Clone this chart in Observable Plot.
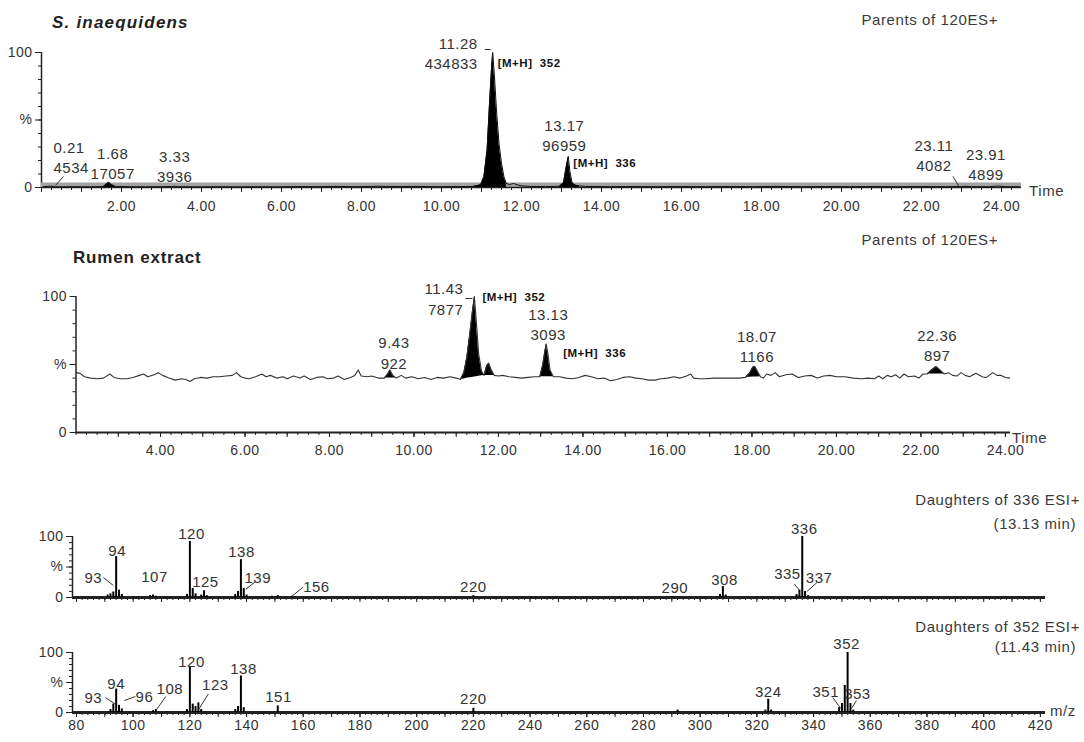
<!DOCTYPE html>
<html><head><meta charset="utf-8">
<script src="https://cdn.jsdelivr.net/npm/d3@7"></script>
<script src="https://cdn.jsdelivr.net/npm/@observablehq/plot@0.6"></script>
<style>
body{margin:0;background:#fff;}
#wrap{position:relative;width:1084px;height:742px;overflow:hidden;font-family:"Liberation Sans",Arial,sans-serif;color:#333;background:#fff;}
#wrap svg{position:absolute;left:0;}
.lbl{position:absolute;white-space:pre;line-height:1;letter-spacing:0.6px;color:#3a3a3a;}
</style></head><body><div id="wrap"></div>
<script>
// ---------------- DATA ----------------
// Panel 1: S. inaequidens, Parents of 120ES+ (time min, % intensity)
const inaequidensTrace = [
[0.05,0.6],[0.21,1.0],[0.35,0.5],[0.8,0.6],[1.2,0.5],[1.55,0.7],[1.62,2.5],[1.68,3.9],[1.74,2.2],[1.85,0.8],
[2.2,0.6],[2.6,0.5],[3.0,0.6],[3.25,0.7],[3.33,0.9],[3.42,0.6],[3.9,0.5],[4.4,0.6],[4.9,0.5],[5.4,0.6],
[5.9,0.5],[6.4,0.7],[6.9,0.6],[7.4,0.8],[7.9,0.6],[8.4,0.9],[8.9,0.7],[9.4,0.8],[9.9,0.6],[10.4,0.7],
[10.8,0.8],[10.98,2],[11.06,8],[11.14,28],[11.2,62],[11.25,88],[11.28,100],[11.32,84],[11.38,55],[11.44,32],
[11.5,18],[11.56,8],[11.62,3],[11.7,2.2],[11.8,3.0],[11.9,2.0],[12.0,1.2],[12.2,0.8],[12.6,0.7],[12.95,0.9],
[13.05,3.5],[13.11,14],[13.17,23],[13.21,12],[13.26,4],[13.33,1.8],[13.45,1.2],[13.6,0.8],[14.2,0.6],[14.8,0.7],
[15.4,0.6],[16.0,0.7],[16.6,0.6],[17.2,0.7],[17.8,0.6],[18.4,0.8],[19.0,0.6],[19.6,0.7],[20.2,0.6],[20.8,0.7],
[21.4,0.6],[22.0,0.7],[22.6,0.6],[23.0,0.7],[23.11,0.9],[23.25,0.6],[23.7,0.6],[23.91,1.1],[24.1,0.6],[24.45,0.6]];
const inaequidensPeakWindows = [[1.55,1.85],[10.8,11.62],[12.95,13.45]];
const inaequidensLabelTimes = ["0.21","1.68","3.33","11.28","13.17","23.11","23.91"];
const inaequidensLabelAreas = ["4534","17057","3936","434833","96959","4082","4899"];
const inaequidensIonTimes = ["11.28","13.17"];
const inaequidensIonTexts = ["[M+H]\u00a0\u00a0352","[M+H]\u00a0\u00a0336"];

// Panel 2: Rumen extract, Parents of 120ES+
const rumenTrace = [
[2.0,44],[2.1,43.5],[2.2,41],[2.35,40],[2.5,39.5],[2.65,40],[2.8,43],[2.9,40.5],[3.05,39.5],[3.2,39.5],
[3.35,40.5],[3.5,42],[3.6,43],[3.7,41],[3.85,42.5],[3.95,44],[4.05,42],[4.2,40],[4.35,38.5],[4.5,39.5],
[4.6,39],[4.7,37.5],[4.8,39.5],[4.95,40.5],[5.1,40],[5.25,41],[5.4,41],[5.55,41.5],[5.7,42],[5.8,44],
[5.9,41],[6.0,40],[6.1,39.5],[6.25,41],[6.4,43],[6.5,41],[6.6,42],[6.75,40],[6.9,41],[7.0,39.5],
[7.15,41.5],[7.3,40],[7.4,41.5],[7.55,39],[7.7,40.5],[7.85,41],[7.95,39.5],[8.1,40],[8.2,41.5],[8.35,39],
[8.5,40.5],[8.6,42],[8.68,46],[8.75,41.5],[8.9,41],[9.0,41.5],[9.15,40],[9.3,40],[9.38,43],[9.43,46],
[9.5,42],[9.58,40],[9.7,42],[9.8,40],[9.95,41],[10.1,39.5],[10.25,40.5],[10.4,39],[10.55,40.5],[10.7,40],
[10.85,41],[11.0,40],[11.1,39],[11.18,44],[11.25,55],[11.32,72],[11.38,88],[11.43,100],[11.48,80],[11.53,58],
[11.6,45],[11.66,42],[11.72,49],[11.77,51],[11.83,46],[11.9,42],[12.0,41.5],[12.1,42],[12.25,41],[12.4,40.5],
[12.55,40],[12.7,40.5],[12.85,41],[12.98,41],[13.05,50],[13.1,60],[13.13,65],[13.17,58],[13.22,46],[13.3,41],
[13.45,41],[13.6,40],[13.75,39.5],[13.9,40.5],[14.05,42],[14.2,41],[14.35,39.5],[14.5,40],[14.65,38],[14.8,39],
[14.95,40.5],[15.1,41],[15.25,40],[15.4,39.5],[15.55,38.5],[15.7,38.5],[15.85,39.5],[16.0,40],[16.15,41],[16.3,40],
[16.45,41.5],[16.55,43],[16.62,40],[16.75,39.5],[16.9,39.5],[17.1,40],[17.3,40],[17.5,40],[17.7,40],[17.85,40.5],
[17.95,44],[18.02,48],[18.07,48.5],[18.13,45],[18.2,41],[18.27,40],[18.35,43],[18.45,42],[18.55,44],[18.65,41],
[18.8,42.5],[18.95,43],[19.1,40.5],[19.25,41.5],[19.4,42],[19.55,40],[19.7,41.5],[19.85,42],[20.0,41],[20.2,41],
[20.4,40],[20.6,39.5],[20.75,40],[20.9,39.5],[21.0,41.5],[21.1,39.5],[21.2,42],[21.3,41],[21.4,42.5],[21.5,40],
[21.6,43],[21.7,41],[21.85,41.5],[21.95,40],[22.05,43],[22.15,43],[22.25,46],[22.36,48.5],[22.45,46],[22.55,43],
[22.65,44],[22.75,42],[22.85,41.5],[22.95,44],[23.05,42],[23.15,41],[23.3,43.5],[23.45,41],[23.55,40.5],[23.7,44],
[23.8,42],[23.9,42],[24.0,40.5],[24.1,40]];
const rumenPeakWindows = [[9.3,9.58],[11.1,11.66],[11.66,11.9],[12.98,13.3],[17.85,18.2],[22.15,22.55]];
const rumenLabelTimes = ["9.43","11.43","13.13","18.07","22.36"];
const rumenLabelAreas = ["922","7877","3093","1166","897"];
const rumenIonTimes = ["11.43","13.13"];
const rumenIonTexts = ["[M+H]\u00a0\u00a0352","[M+H]\u00a0\u00a0336"];

// Panel 3: Daughters of 336 ESI+ (m/z, %)
const daughters336 = [[91,4],[92,6],[93,9],[94,67],[95,12],[96,5],[106,3],[107,4],[108,2],[119,5],[120,92],[121,15],
[122,6],[124,4],[125,11],[126,3],[136,5],[137,10],[138,62],[139,15],[140,4],[149,2],[151,3],[156,2],[220,3],
[290,1.5],[307,5],[308,18],[309,4],[334,5],[335,12],[336,100],[337,10],[338,3]];
const daughters336Labels = [93,94,107,120,125,138,139,156,220,290,308,335,336,337];

// Panel 4: Daughters of 352 ESI+
const daughters352 = [[92,5],[93,14],[94,39],[95,12],[96,6],[107,3],[108,5],[119,5],[120,75],[121,14],[122,10],
[123,16],[124,5],[136,5],[137,10],[138,61],[139,8],[151,11],[220,7],[292,4],[323,4],[324,22],[325,4],[349,8],
[350,15],[351,45],[352,100],[353,15],[354,4]];
const daughters352Labels = [93,94,96,108,120,123,138,151,220,324,351,352,353];

// Axis ticks
const yTickValues = [0,50,100];
const yTickLabels = ["0","%","100"];
const timeTicks1 = [2,4,6,8,10,12,14,16,18,20,22,24];
const timeTicks2 = [4,6,8,10,12,14,16,18,20,22,24];
const mzTicks = [80,100,120,140,160,180,200,220,240,260,280,300,320,340,360,380,400,420];

// Titles
const titles = {
  s1: "S. inaequidens", s1right: "Parents of 120ES+",
  s2: "Rumen extract", s2right: "Parents of 120ES+",
  s3: "Daughters of 336 ESI+", s3b: "(13.13 min)",
  s4: "Daughters of 352 ESI+", s4b: "(11.43 min)"
};

// ---------------- LAYOUT (pixel offsets, not data) ----------------
const FONT = '"Liberation Sans", Arial, sans-serif';
const wrap = document.getElementById("wrap");
const INK = "#333";

function svgStyle(top){
  return `position:absolute;left:0;top:${top}px;font-family:${FONT};font-size:14px;letter-spacing:0.5px;color:#222;background:transparent;overflow:visible;`;
}
function yAxes(){
  return [
    Plot.axisY({ticks: d3.range(0,101,10), tickSize:3, tickFormat:()=>"", label:null}),
    Plot.axisY({ticks: yTickValues, tickSize:6, tickPadding:3, tickFormat:d=>yTickLabels[yTickValues.indexOf(d)], label:null, fill:INK})
  ];
}
const tval = s => +s;
function traceAt(trace, t){ let best = trace[0]; for (const p of trace) if (Math.abs(p[0]-t) < Math.abs(best[0]-t)) best = p; return best[1]; }
function fills(trace, windows, linear){
  const out = [];
  windows.forEach(([a,b],id)=>{
    const pts = trace.filter(p=>p[0]>=a && p[0]<=b);
    const ya = pts[0][1], yb = pts[pts.length-1][1];
    for (const [t,v] of pts) out.push({id, t, v, base: linear ? ya+(yb-ya)*(t-a)/(b-a) : 0});
  });
  return out;
}
function labelMarks(items, layout, kx, ky, opts){
  const marks = [];
  for (const it of items){
    const L = layout[it.key] || {};
    marks.push(Plot.text([it], {x:"x", y:"y", text:"text", dx:L.dx||0, dy:L.dy||0, textAnchor:L.anchor||"middle",
      lineAnchor:"middle", lineHeight:1.35, fontSize:opts.fontSize||15, fontWeight:opts.fontWeight||"normal", fill:opts.fill||INK}));
    if (L.leader){
      const [a,b,c,e] = L.leader;
      marks.push(Plot.link([it], {x1:d=>d.x+a/kx, y1:d=>d.y-b/ky, x2:d=>d.x+c/kx, y2:d=>d.y-e/ky, stroke:"#333", strokeWidth:1}));
    }
  }
  return marks;
}
function addLabel(text, o){
  const d = document.createElement("div");
  d.className = "lbl"; d.textContent = text;
  d.style.fontSize = o.size+"px";
  if (o.weight) d.style.fontWeight = o.weight;
  if (o.italic) d.style.fontStyle = "italic";
  if (o.color) d.style.color = o.color;
  if (o.ls !== undefined) d.style.letterSpacing = o.ls+"px";
  d.style.top = (o.cy - o.size*0.55)+"px";
  if (o.left !== undefined) d.style.left = o.left+"px";
  if (o.right !== undefined) { d.style.right = (1084-o.right)+"px"; d.style.textAlign="right"; }
  wrap.appendChild(d);
}

// ---------------- PANEL 1 ----------------
{
  const dom = [0,24.5], kx = 980/24.5, ky = 135/100;
  const layout = {
    "0.21":{dx:3.6, dy:-30, anchor:"start", leader:[5.6,-0.7,13.6,-9.7]},
    "1.68":{dx:4, dy:-19.7}, "3.33":{dx:0, dy:-21},
    "11.28":{dx:-15, dy:0, anchor:"end", leader:[-8,-3,-2,-3]},
    "13.17":{dx:-4, dy:-22},
    "23.11":{dx:-32, dy:-32, leader:[-13,-10,-7,0]},
    "23.91":{dx:-12, dy:-22.5}
  };
  const ionLayout = {"11.28":{dx:5, dy:10, anchor:"start"}, "13.17":{dx:5, dy:6, anchor:"start"}};
  const items = inaequidensLabelTimes.map((s,i)=>({key:s, x:tval(s), y:traceAt(inaequidensTrace,tval(s)), text:s+"\n"+inaequidensLabelAreas[i]}));
  const ions = inaequidensIonTimes.map((s,i)=>({key:s, x:tval(s), y:traceAt(inaequidensTrace,tval(s)), text:inaequidensIonTexts[i]}));
  const svg = Plot.plot({
    width:1084, height:225, marginTop:52, marginBottom:38, marginLeft:41, marginRight:63,
    x:{domain:dom}, y:{domain:[0,100]}, style: svgStyle(0),
    marks:[
      ...yAxes(),
      Plot.axisX({ticks:d3.range(0,24.5,0.25), tickSize:3, tickFormat:()=>"", label:null}),
      Plot.axisX({ticks:d3.range(0,24.5,1), tickSize:5, tickFormat:()=>"", label:null}),
      Plot.axisX({ticks:timeTicks1, tickSize:5, tickPadding:9, tickFormat:d3.format(".2f"), label:null, fill:INK}),
      Plot.ruleX([dom[0]], {y1:0, y2:100, strokeWidth:1.5}),
      Plot.ruleY([0], {stroke:"#a3a3a3", strokeWidth:5, dy:-2.5}),
      Plot.ruleY([0], {strokeWidth:1.5}),
      Plot.areaY(fills(inaequidensTrace, inaequidensPeakWindows, false), {x:"t", y1:"base", y2:"v", z:"id", fill:"#000", curve:"linear"}),
      Plot.line(inaequidensTrace, {x:d=>d[0], y:d=>d[1], stroke:"#111", strokeWidth:1}),
      ...labelMarks(items, layout, kx, ky, {}),
      ...labelMarks(ions, ionLayout, kx, ky, {fontSize:11.5, fontWeight:"bold", fill:"#111"})
    ]
  });
  wrap.appendChild(svg);
  addLabel(titles.s1, {left:52, cy:23, size:17, weight:"bold", italic:true, color:"#222", ls:1.2});
  addLabel(titles.s1right, {right:998, cy:20, size:15});
  addLabel("Time", {left:1029, cy:191, size:15});
}

// ---------------- PANEL 2 ----------------
{
  const dom = [2,24.12], kx = 934.5/22.12, ky = 136/100;
  const layout = {
    "9.43":{dx:4, dy:-18},
    "11.43":{dx:-11, dy:1.5, anchor:"end", leader:[-9,2,-2,2]},
    "13.13":{dx:2, dy:-20.6},
    "18.07":{dx:2, dy:-21},
    "22.36":{dx:1, dy:-22}
  };
  const ionLayout = {"11.43":{dx:8, dy:0, anchor:"start"}, "13.13":{dx:17, dy:8, anchor:"start"}};
  const items = rumenLabelTimes.map((s,i)=>({key:s, x:tval(s), y:traceAt(rumenTrace,tval(s)), text:s+"\n"+rumenLabelAreas[i]}));
  const ions = rumenIonTimes.map((s,i)=>({key:s, x:tval(s), y:traceAt(rumenTrace,tval(s)), text:rumenIonTexts[i]}));
  const svg = Plot.plot({
    width:1084, height:245, marginTop:71, marginBottom:38, marginLeft:75.5, marginRight:74,
    x:{domain:dom}, y:{domain:[0,100]}, style: svgStyle(225),
    marks:[
      ...yAxes(),
      Plot.axisX({ticks:d3.range(2,24.1,0.25), tickSize:3, tickFormat:()=>"", label:null}),
      Plot.axisX({ticks:d3.range(3,24.1,1), tickSize:5, tickFormat:()=>"", label:null}),
      Plot.axisX({ticks:timeTicks2, tickSize:5, tickPadding:8, tickFormat:d3.format(".2f"), label:null, fill:INK}),
      Plot.ruleX([dom[0]], {y1:0, y2:100, strokeWidth:1.5}),
      Plot.ruleY([0], {strokeWidth:2}),
      Plot.areaY(fills(rumenTrace, rumenPeakWindows, true), {x:"t", y1:"base", y2:"v", z:"id", fill:"#000", curve:"linear"}),
      Plot.line(rumenTrace, {x:d=>d[0], y:d=>d[1], stroke:"#333", strokeWidth:1.1}),
      ...labelMarks(items, layout, kx, ky, {}),
      ...labelMarks(ions, ionLayout, kx, ky, {fontSize:11.5, fontWeight:"bold", fill:"#111"})
    ]
  });
  wrap.appendChild(svg);
  addLabel(titles.s2right, {right:998, cy:240, size:15});
  addLabel(titles.s2, {left:73, cy:258, size:17, weight:"bold", color:"#222", ls:0.8});
  addLabel("Time", {left:1012, cy:438, size:15});
}

// ---------------- PANELS 3 & 4 ----------------
function spectrumPanel(spec, labels, layout, top, height, mTop, mBottom, showLabels){
  const dom = [78.6,421.8], kx = 973/343.2, ky = (height-mTop-mBottom)/100;
  const items = labels.map(m=>({key:String(m), x:m, y:(spec.find(p=>p[0]===m)||[m,0])[1], text:String(m)}));
  return Plot.plot({
    width:1084, height, marginTop:mTop, marginBottom:mBottom, marginLeft:72, marginRight:39,
    x:{domain:dom}, y:{domain:[0,100]}, style: svgStyle(top),
    marks:[
      ...yAxes(),
      Plot.axisX({ticks:d3.range(80,421,2), tickSize:3, tickFormat:()=>"", label:null}),
      Plot.axisX({ticks:d3.range(80,421,10), tickSize:5, tickFormat:()=>"", label:null}),
      showLabels ? Plot.axisX({ticks:mzTicks, tickSize:5, tickPadding:3, tickFormat:d=>String(d), label:null, fill:INK}) : null,
      Plot.ruleX([dom[0]], {y1:0, y2:100, strokeWidth:1.5}),
      Plot.ruleY([0], {strokeWidth:3}),
      Plot.ruleX(spec, {x:d=>d[0], y1:0, y2:d=>d[1], stroke:"#000", strokeWidth:2}),
      ...labelMarks(items, layout, kx, ky, {})
    ]
  });
}
{
  const layout3 = {
    "93":{dx:-20, dy:-15.5, leader:[-10,-14.5,0,-6.5]}, "94":{dx:1, dy:-7}, "107":{dx:1.5, dy:-19.6},
    "120":{dx:1.6, dy:-9}, "125":{dx:1.4, dy:-10.3}, "138":{dx:0.6, dy:-9.2},
    "139":{dx:14, dy:-12, leader:[2,1,12,-7]}, "156":{dx:24.5, dy:-10.8, leader:[0,0,11,-9]},
    "220":{dx:0, dy:-10}, "290":{dx:3, dy:-10}, "308":{dx:1.6, dy:-8},
    "335":{dx:-12, dy:-17.7, leader:[-5,-6,0,0]}, "336":{dx:2, dy:-9}, "337":{dx:14, dy:-15, leader:[2,0,12,-9]}
  };
  wrap.appendChild(spectrumPanel(daughters336, daughters336Labels, layout3, 470, 140, 66, 13, false));
  addLabel(titles.s3, {right:1080, cy:500, size:15});
  addLabel(titles.s3b, {right:1076, cy:524, size:15});

  const layout4 = {
    "93":{dx:-20, dy:-7.6, leader:[-8,-6.6,2,0]}, "94":{dx:0, dy:-6.6},
    "96":{dx:22.6, dy:-13.4, leader:[2.6,-8.4,13.6,-12.4]}, "108":{dx:14, dy:-22, leader:[0,1,10,-13]},
    "120":{dx:1.6, dy:-7}, "123":{dx:17, dy:-19.4, leader:[0,7,10,-9]}, "138":{dx:2.6, dy:-8.4},
    "151":{dx:0.7, dy:-10.4}, "220":{dx:0, dy:-10.8}, "324":{dx:0, dy:-8.8},
    "351":{dx:-19, dy:5, leader:[-12,12,-4,23]}, "352":{dx:-1, dy:-10}, "353":{dx:7, dy:-11, leader:[1,5,6,-3]}
  };
  wrap.appendChild(spectrumPanel(daughters352, daughters352Labels, layout4, 610, 132, 42, 30, true));
  addLabel(titles.s4, {right:1080, cy:627, size:15});
  addLabel(titles.s4b, {right:1076, cy:647, size:15});
  addLabel("m/z", {left:1050, cy:711, size:15});
}
</script></body></html>
